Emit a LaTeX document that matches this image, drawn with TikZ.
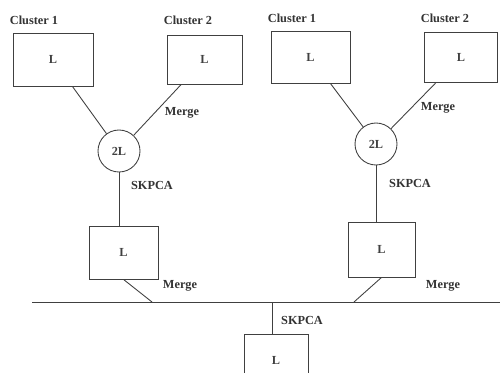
\documentclass[tikz,border=0pt]{standalone}
\usepackage{fontspec}
\setmainfont{Liberation Serif}
\usepackage{tikz}
\usetikzlibrary{positioning,calc}

\begin{document}
\begin{tikzpicture}[
  x=0.02cm, y=-0.02cm,
  font=\fontsize{7}{8}\selectfont\bfseries,
  color=black!75, line width=0.5pt,
  box/.style={draw, rectangle, inner sep=0pt},
  merger/.style={draw, circle, minimum size=0.84cm, inner sep=0pt},
  lbl/.style={inner sep=0pt, text=black!80}
]
\useasboundingbox (0,0) rectangle (500,372);
\clip (0,0) rectangle (500,372);

% left group
\node[box, minimum width=1.6cm, minimum height=1.06cm] (c1a) at (53,59.5) {L};
\node[box, minimum width=1.5cm, minimum height=0.98cm] (c2a) at (204.5,59.5) {L};
\node[lbl] (t1a) at (34,20) {Cluster 1};
\node[lbl] (t2a) at (188,20) {Cluster 2};
\node[merger] (m1) at (119,151) {2L};
\node[box, minimum width=1.38cm, minimum height=1.06cm] (lowa) at (123.5,252.5) {L};

% right group
\node[box, minimum width=1.58cm, minimum height=1.04cm] (c1b) at (310.5,57) {L};
\node[box, minimum width=1.46cm, minimum height=1.0cm] (c2b) at (461,57) {L};
\node[lbl] (t1b) at (292,18) {Cluster 1};
\node[lbl] (t2b) at (445,18) {Cluster 2};
\node[merger] (m2) at (376,144) {2L};
\node[box, minimum width=1.34cm, minimum height=1.1cm] (lowb) at (381.5,249.5) {L};

% bottom
\node[box, minimum width=1.28cm, minimum height=1.06cm] (fin) at (276,360.5) {L};

% bus
\coordinate (busl) at (32,302);
\coordinate (busr) at (500,302);
\coordinate (ja) at (152,302);
\coordinate (jb) at (354,302);
\coordinate (jc) at (272,302);
\draw (busl) -- (busr);

\draw (c1a) -- (m1);
\draw (c2a) -- (m1);
\draw (m1) -- (lowa.north -| m1);
\draw (lowa.south) -- (ja);

\draw (c1b) -- (m2);
\draw (c2b) -- (m2);
\draw (m2) -- (lowb.north -| m2);
\draw (lowb.south) -- (jb);

\draw (jc) -- (fin.north -| jc);

% labels
\node[lbl] at (182,113) {Merge};
\node[lbl] at (152,185) {SKPCA};
\node[lbl] at (180,286) {Merge};
\node[lbl] at (438,108) {Merge};
\node[lbl] at (410,183) {SKPCA};
\node[lbl] at (443,286) {Merge};
\node[lbl] at (302,320) {SKPCA};
\end{tikzpicture}
\end{document}
